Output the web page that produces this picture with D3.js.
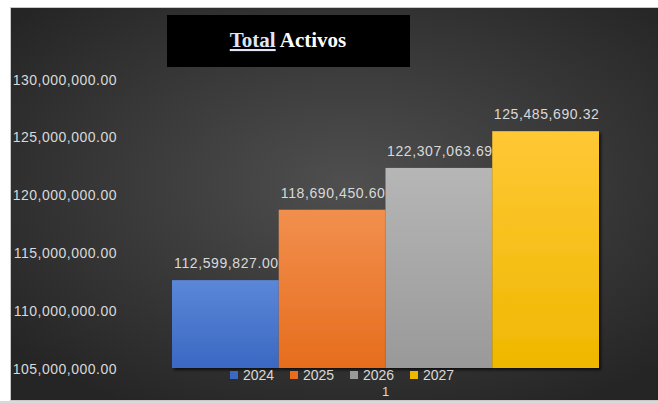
<!DOCTYPE html>
<html>
<head>
<meta charset="utf-8">
<script src="https://cdn.jsdelivr.net/npm/d3@7"></script>
<style>
  html, body { margin: 0; background: #ffffff; overflow: hidden; }
  svg { display: block; }
</style>
</head>
<body>
<div id="chart"></div>
<script>
// chart data
var categories = ["1"];
var years = ["2024", "2025", "2026", "2027"];
var totals = [112599827.00, 118690450.60, 122307063.69, 125485690.32];
var yDomain = [105000000, 130000000];
var titleWords = ["Total", "Activos"];

// colours [top, bottom] of each bar
var palette = [
    ["#5b87d8", "#3a68c2"],
    ["#f28f4e", "#e66d1d"],
    ["#b6b6b6", "#999999"],
    ["#ffc835", "#efb800"]
];

var W = 658, H = 403;

var svg = d3.select("#chart").append("svg")
    .attr("width", W)
    .attr("height", H);

var defs = svg.append("defs");

// background glow
var bg = defs.append("radialGradient")
    .attr("id", "bg")
    .attr("cx", "50%").attr("cy", "45%").attr("r", "65%");
bg.append("stop").attr("offset", "0%").attr("stop-color", "#4f4f4f");
bg.append("stop").attr("offset", "100%").attr("stop-color", "#252525");

palette.forEach(function(c, i){
    var g = defs.append("linearGradient")
        .attr("id", "bar" + i)
        .attr("x1", 0).attr("y1", 0).attr("x2", 0).attr("y2", 1);
    g.append("stop").attr("offset", "0%").attr("stop-color", c[0]);
    g.append("stop").attr("offset", "100%").attr("stop-color", c[1]);
});

var shadow = defs.append("filter")
    .attr("id", "shadow")
    .attr("x", "-10%").attr("y", "-10%").attr("width", "130%").attr("height", "130%");
shadow.append("feDropShadow")
    .attr("dx", 2).attr("dy", 2).attr("stdDeviation", 1.5)
    .attr("flood-color", "#000").attr("flood-opacity", 0.7);

// chart area
svg.append("rect")
    .attr("x", 10.5).attr("y", 7.5)
    .attr("width", W + 20).attr("height", 393)
    .attr("fill", "url(#bg)")
    .attr("stroke", "#c8c8c8")
    .attr("stroke-width", 1);
svg.append("rect")
    .attr("x", 0).attr("y", 401)
    .attr("width", W).attr("height", 2)
    .attr("fill", "#d9d9d9");

// scales
var y = d3.scaleLinear()
    .domain(yDomain)
    .range([368, 79]);

var x0 = d3.scaleBand()
    .domain(categories)
    .range([172, 599])
    .padding(0);

var x1 = d3.scaleBand()
    .domain(years)
    .range([0, x0.bandwidth()])
    .padding(0);

var fmt = d3.format(",.2f");
var labelFont = "'Liberation Sans', Arial, sans-serif";

// y axis (labels only)
var yAxis = d3.axisLeft(y)
    .tickValues(d3.range(yDomain[0], yDomain[1] + 1, 5000000))
    .tickFormat(fmt)
    .tickSize(0)
    .tickPadding(0);

var yG = svg.append("g")
    .attr("transform", "translate(117,0)")
    .call(yAxis);
yG.select(".domain").remove();
yG.selectAll("text")
    .attr("fill", "#d9d9d9")
    .attr("font-family", labelFont)
    .attr("font-size", "14px")
    .attr("letter-spacing", "0.5px")
    .attr("dy", "0.36em");

// bars, each with its label (next bar covers the overflow)
var rows = years.map(function(yr, i){ return { year: yr, value: totals[i], idx: i, cat: categories[0] }; });

var groups = svg.append("g").selectAll("g.bar")
    .data(rows)
    .enter().append("g")
    .attr("class", "bar");

groups.append("text")
    .attr("x", d => x0(d.cat) + x1(d.year) + x1.bandwidth() / 2 + 1)
    .attr("y", d => y(d.value) - 12)
    .attr("text-anchor", "middle")
    .attr("fill", "#d9d9d9")
    .attr("font-family", labelFont)
    .attr("font-size", "14px")
    .attr("letter-spacing", "0.6px")
    .text(d => fmt(d.value));

groups.append("rect")
    .attr("x", d => x0(d.cat) + x1(d.year))
    .attr("y", d => y(d.value))
    .attr("width", x1.bandwidth())
    .attr("height", d => y(yDomain[0]) - y(d.value))
    .attr("fill", d => "url(#bar" + d.idx + ")")
    .attr("filter", "url(#shadow)");

// legend
var legend = svg.append("g").selectAll("g.leg")
    .data(years)
    .enter().append("g")
    .attr("class", "leg")
    .attr("transform", (d, i) => "translate(" + (230 + i * 60) + ",371)");

legend.append("rect")
    .attr("width", 8).attr("height", 8)
    .attr("fill", (d, i) => palette[i][1]);

legend.append("text")
    .attr("x", 13)
    .attr("y", 9)
    .attr("fill", "#d9d9d9")
    .attr("font-family", labelFont)
    .attr("font-size", "14px")
    .text(d => d);

// category label
svg.append("text")
    .attr("x", x0(categories[0]) + x0.bandwidth() / 2)
    .attr("y", 396)
    .attr("text-anchor", "middle")
    .attr("fill", "#d9d9d9")
    .attr("font-family", labelFont)
    .attr("font-size", "13px")
    .text(categories[0]);

// title box
svg.append("rect")
    .attr("x", 167).attr("y", 15)
    .attr("width", 243).attr("height", 52)
    .attr("fill", "#000000");

var title = svg.append("text")
    .attr("x", 288)
    .attr("y", 47)
    .attr("text-anchor", "middle")
    .attr("font-family", "'Liberation Serif', 'Times New Roman', serif")
    .attr("font-weight", "bold")
    .attr("font-size", "21px");
title.append("tspan")
    .attr("fill", "#dfe6fa")
    .attr("text-decoration", "underline")
    .style("text-decoration-color", "#3d63d0")
    .text(titleWords[0]);
title.append("tspan")
    .attr("fill", "#ffffff")
    .text(" " + titleWords[1]);
</script>
</body>
</html>
